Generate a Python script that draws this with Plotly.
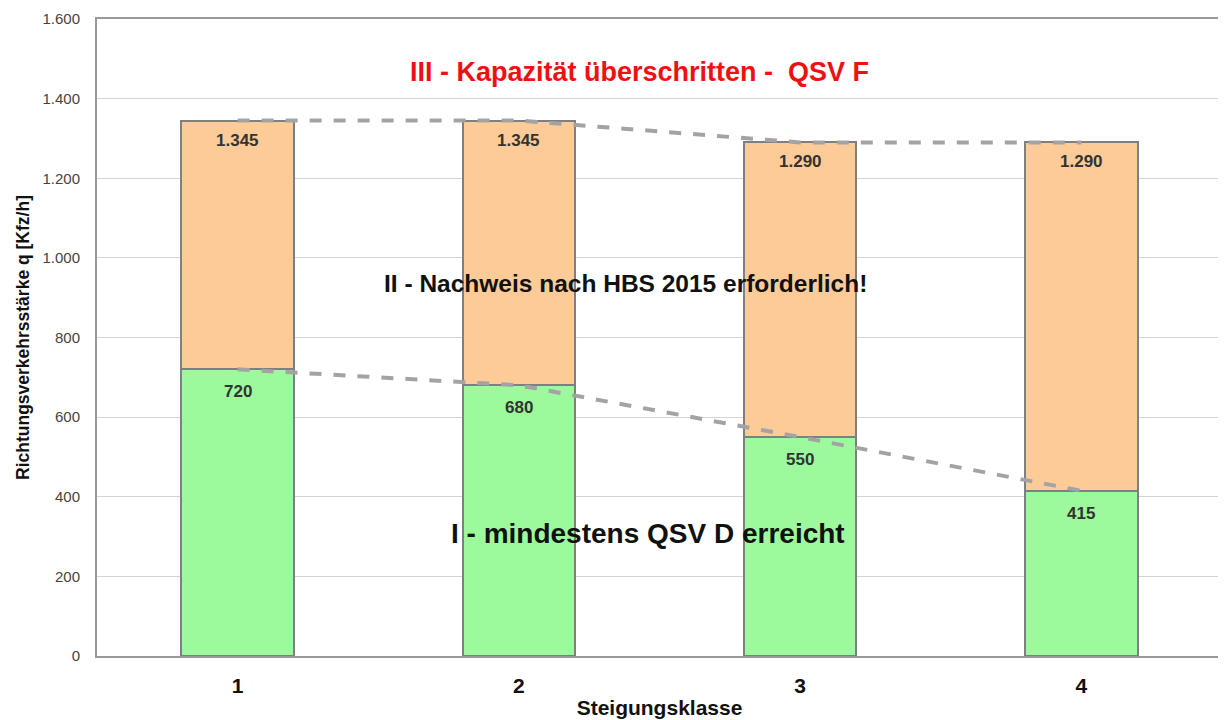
import plotly.graph_objects as go

categories = [1, 2, 3, 4]
tick_labels = ["1", "2", "3", "4"]
green_values = [720, 680, 550, 415]        # Bereich I
total_values = [1345, 1345, 1290, 1290]    # Kapazität
orange_values = [t - g for t, g in zip(total_values, green_values)]  # Bereich II

def de_fmt(v):
    return f"{v:,}".replace(",", ".")

FONT = "Liberation Sans, Arial, sans-serif"
GREEN = "#9cfa9c"
ORANGE = "#fccb97"
EDGE = "#7f7f7f"
LINE = "#a3a3a3"

fig = go.Figure()
fig.add_trace(go.Bar(x=categories, y=green_values, width=0.4,
                     marker=dict(color=GREEN, line=dict(color=EDGE, width=2)),
                     hoverinfo="skip"))
fig.add_trace(go.Bar(x=categories, y=orange_values, width=0.4,
                     marker=dict(color=ORANGE, line=dict(color=EDGE, width=2)),
                     hoverinfo="skip"))
fig.add_trace(go.Scatter(x=categories, y=total_values, mode="lines",
                         line=dict(color=LINE, width=4, dash="dash"), hoverinfo="skip"))
fig.add_trace(go.Scatter(x=categories, y=green_values, mode="lines",
                         line=dict(color=LINE, width=4, dash="dash"), hoverinfo="skip"))

annotations = []
for c, g, t in zip(categories, green_values, total_values):
    annotations.append(dict(x=c, y=t, xref="x", yref="y", text=f"<b>{de_fmt(t)}</b>",
                            showarrow=False, yanchor="top", yshift=-8,
                            font=dict(family=FONT, size=17, color="#333333")))
    annotations.append(dict(x=c, y=g, xref="x", yref="y", text=f"<b>{de_fmt(g)}</b>",
                            showarrow=False, yanchor="top", yshift=-11,
                            font=dict(family=FONT, size=17, color="#333333")))

annotations += [
    dict(x=0.482, y=0.917, xref="paper", yref="paper", xanchor="center", yanchor="middle",
         text="<b>III - Kapazität überschritten -  QSV F</b>", showarrow=False,
         font=dict(family=FONT, size=27, color="#ee1111")),
    dict(x=0.470, y=0.584, xref="paper", yref="paper", xanchor="center", yanchor="middle",
         text="<b>II - Nachweis nach HBS 2015 erforderlich!</b>", showarrow=False,
         font=dict(family=FONT, size=24.5, color="#111111")),
    dict(x=0.490, y=0.193, xref="paper", yref="paper", xanchor="center", yanchor="middle",
         text="<b>I - mindestens QSV D erreicht</b>", showarrow=False,
         font=dict(family=FONT, size=28, color="#111111")),
]

fig.update_layout(
    width=1218, height=712,
    barmode="stack",
    showlegend=False,
    separators=",.",
    paper_bgcolor="white",
    plot_bgcolor="white",
    margin=dict(l=89, r=4, t=11, b=64),
    font=dict(family=FONT, color="#333333"),
    annotations=annotations,
    xaxis=dict(
        range=[0.5, 4.5], tickmode="array", tickvals=categories,
        ticktext=[f"<b>{t}</b>" for t in tick_labels],
        tickfont=dict(family=FONT, size=21, color="#111111"),
        ticklabelstandoff=10,
        showgrid=False, zeroline=False, automargin=False,
        showline=True, linecolor="#999999", linewidth=2, mirror=True,
        ticks="",
        title=dict(text="<b>Steigungsklasse</b>", standoff=4,
                   font=dict(family=FONT, size=21, color="#111111")),
    ),
    yaxis=dict(
        range=[0, 1600], tickmode="linear", tick0=0, dtick=200,
        tickformat=",d",
        tickfont=dict(family=FONT, size=15, color="#444444"),
        ticklabelstandoff=12,
        showgrid=True, gridcolor="#d4d4d4", gridwidth=1,
        zeroline=False, automargin=False,
        showline=True, linecolor="#999999", linewidth=2, mirror=True,
        ticks="",
        title=dict(text="<b>Richtungsverkehrsstärke q [Kfz/h]</b>", standoff=8,
                   font=dict(family=FONT, size=17.5, color="#111111")),
    ),
)

fig.write_html("out.html")
